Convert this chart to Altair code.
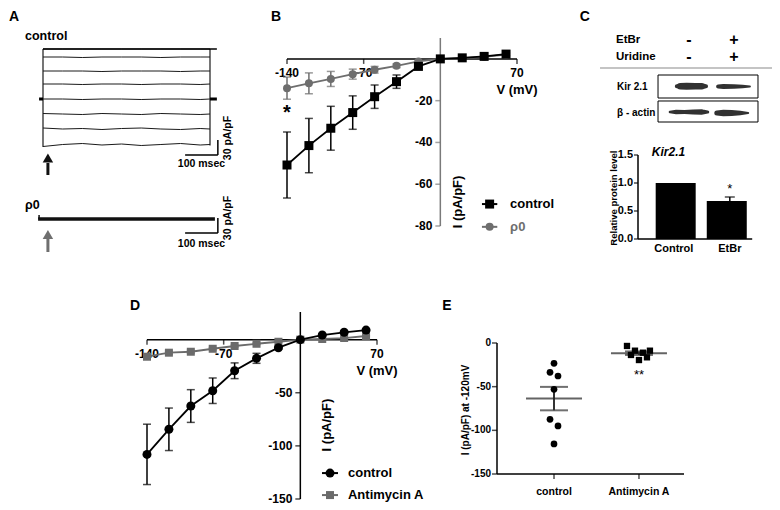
import altair as alt
import pandas as pd

FONT = "Liberation Sans"
M = 8  # page margin

# ======================= DATA =======================
# Panel A - control current traces (pA/pF) sampled at times (ms)
A_t = [0, 60, 120, 180, 240, 300, 360, 420, 480, 510]
A_tr1 = [100, 100, 100, 100, 100, 100, 100, 100, 100, 100]
A_tr2 = [84, 84, 83, 84, 84, 84, 83, 84, 84, 84]
A_tr3 = [56, 56, 56, 55, 56, 56, 56, 55, 56, 56]
A_tr4 = [30, 30, 29, 30, 30, 29, 30, 30, 29, 30]
A_tr5 = [0, 0, -1, 0, 0, -1, 0, 0, -1, 0]
A_tr6 = [-29, -30, -31, -29, -30, -31, -29, -30, -31, -30]
A_tr7 = [-58, -60, -59, -61, -59, -58, -60, -61, -59, -60]
A_tr8 = [-95, -91, -89, -92, -90, -93, -91, -89, -92, -91]
# Panel A - rho0 trace
A_rho_t = [-15, 525]
A_rho_i = [0, 0]

# Panel B - I/V, control vs rho0
B_V = [-140, -120, -100, -80, -60, -40, -20, 0, 20, 40, 60]
B_ctrl = [-50.8, -41.5, -33.2, -25.7, -18.1, -10.9, -3.6, 0.0, 0.5, 1.2, 2.3]
B_ctrl_sem = [15.8, 13.0, 10.5, 8.0, 5.6, 3.2, 1.0, 0.3, 0.4, 0.5, 0.6]
B_rho = [-14.0, -11.7, -9.6, -7.3, -5.2, -3.3, -1.2, 0.0, 0.4, 1.0, 2.0]
B_rho_sem = [5.3, 5.0, 3.6, 2.4, 1.6, 0.9, 0.5, 0.3, 0.3, 0.4, 0.5]
B_xticks = [-140, -70, 70]
B_yticks = [-20, -40, -60, -80]

# Panel C - western blot quantification
C_groups = ["Control", "EtBr"]
C_pos = [1, 2]
C_val = [1.0, 0.68]
C_sem = [0.0, 0.07]
C_yticks = [0.0, 0.5, 1.0, 1.5]
C_ylabels = ["0.0", "0.5", "1.0", "1.5"]

# Panel D - I/V, control vs Antimycin A
D_V = [-140, -120, -100, -80, -60, -40, -20, 0, 20, 40, 60]
D_ctrl = [-108.0, -84.4, -62.5, -48.1, -29.3, -17.6, -7.6, 0.0, 4.3, 6.9, 9.0]
D_ctrl_sem = [28.4, 20.0, 15.4, 12.0, 7.4, 4.7, 1.2, 0.5, 0.6, 0.8, 0.8]
D_anti = [-16.1, -12.3, -11.4, -8.6, -6.0, -3.9, -2.0, 0.0, 0.6, 1.5, 3.4]
D_anti_sem = [1.5, 1.4, 1.3, 1.1, 1.0, 0.8, 0.5, 0.3, 0.3, 0.4, 0.5]
D_xticks = [-140, -70, 70]
D_yticks = [-50, -100, -150]

# Panel E - current at -120 mV, individual cells
E_ctrl_x = [1.0, 0.953, 1.047, 1.0, 0.953, 1.047, 1.0]
E_ctrl = [-23.3, -33.6, -37.8, -53.0, -87.4, -95.0, -115.6]
E_anti_x = [1.859, 1.906, 1.953, 2.0, 2.047, 2.094, 2.129]
E_anti = [-3.4, -13.7, -8.8, -19.5, -11.1, -16.4, -8.8]
E_yticks = [0, -50, -100, -150]

# ======================= HELPERS =======================
def sc(domain, px):
    return alt.Scale(domain=list(domain), range=[px[0] - M, px[1] - M], nice=False, zero=False)


def layer(df, xs, ys, mark, x="x", y="y", x2=None, y2=None, enc=None, **kw):
    e = {"x": alt.X(f"{x}:Q", scale=xs, axis=None),
         "y": alt.Y(f"{y}:Q", scale=ys, axis=None)}
    if x2:
        e["x2"] = alt.X2(f"{x2}:Q")
    if y2:
        e["y2"] = alt.Y2(f"{y2}:Q")
    if enc:
        e.update(enc)
    return getattr(alt.Chart(df), "mark_" + mark)(**kw).encode(**e)


def text(xs, ys, xv, yv, labels, size=12, weight="bold", **kw):
    kw.setdefault("color", "#000")
    df = pd.DataFrame({"x": xv, "y": yv, "label": labels})
    return layer(df, xs, ys, "text", enc={"text": alt.Text("label:N")},
                 font=FONT, fontSize=size, fontWeight=weight, **kw)


def hrule(xs, ys, x1, x2, y, **kw):
    return layer(pd.DataFrame({"x": [x1], "x2": [x2], "y": [y]}), xs, ys, "rule", x2="x2", **kw)


def vrule(xs, ys, x, y1, y2, **kw):
    return layer(pd.DataFrame({"x": [x], "y": [y1], "y2": [y2]}), xs, ys, "rule", y2="y2", **kw)


layers = []

# ======================= PANEL A =======================
xA = sc([0, 510], [43, 210])
yA = sc([-100, 100], [149, 49])      # control traces, 0 at y=99
yA2 = sc([-100, 100], [269, 169])    # rho0 trace, 0 at y=219

rows = []
for k, tr in enumerate([A_tr1, A_tr2, A_tr3, A_tr4, A_tr5, A_tr6, A_tr7, A_tr8]):
    for t, v in zip(A_t, tr):
        rows.append({"x": t, "y": v, "tr": k})
A_df = pd.DataFrame(rows)
layers.append(layer(A_df, xA, yA, "line", enc={"detail": alt.Detail("tr:N")},
                    color="#1a1a1a", strokeWidth=1))
layers.append(vrule(xA, yA, 0, -96, 100, color="#1a1a1a", strokeWidth=1.2))
layers.append(vrule(xA, yA, 510, -93, 100, color="#1a1a1a", strokeWidth=1.2))
layers.append(hrule(xA, yA, 0, 531, 100, color="#000", strokeWidth=1.6))
layers.append(hrule(xA, yA, -12, 0, 0, color="#000", strokeWidth=3))
layers.append(hrule(xA, yA, 510, 531, 0, color="#000", strokeWidth=3))
# arrow
layers.append(vrule(xA, yA, 15, -128, -152, color="#111", strokeWidth=3))
layers.append(layer(pd.DataFrame({"x": [15], "y": [-118]}), xA, yA, "point",
                    shape="triangle-up", filled=True, size=110, color="#111", opacity=1))
# scale bar
layers.append(vrule(xA, yA, 534, -112, -82, color="#000", strokeWidth=1.5))
layers.append(hrule(xA, yA, 434, 534, -112, color="#000", strokeWidth=1.5))
layers.append(text(xA, yA, [484], [-130], ["100 msec"], size=10.5))
layers.append(text(xA, yA, [565], [-78], ["30 pA/pF"], size=10.5, angle=270))
layers.append(text(xA, yA, [-55], [126], ["control"], size=12.5, align="left"))
layers.append(text(xA, yA, [-88.5], [156], ["A"], size=14, baseline="alphabetic"))

# rho0
layers.append(layer(pd.DataFrame({"x": A_rho_t, "y": A_rho_i}), xA, yA2, "line",
                    color="#111", strokeWidth=3.5))
layers.append(vrule(xA, yA2, -12, 0, 8, color="#111", strokeWidth=1.5))
layers.append(vrule(xA, yA2, 15, -40, -66, color="#6f6f6f", strokeWidth=3))
layers.append(layer(pd.DataFrame({"x": [15], "y": [-31]}), xA, yA2, "point",
                    shape="triangle-up", filled=True, size=110, color="#6f6f6f", opacity=1))
layers.append(vrule(xA, yA2, 534, -28, 2, color="#000", strokeWidth=1.5))
layers.append(hrule(xA, yA2, 434, 534, -28, color="#000", strokeWidth=1.5))
layers.append(text(xA, yA2, [484], [-50], ["100 msec"], size=10.5))
layers.append(text(xA, yA2, [565], [2], ["30 pA/pF"], size=10.5, angle=270))
layers.append(text(xA, yA2, [-55], [28], ["ρ0"], size=12.5, align="left"))


# ======================= IV PANELS (B, D) =======================
def iv_panel(xs, ys, V, s1, s1e, s2, s2e, c1, c2, shp1, shp2, sz1, sz2,
             ylo, yhi, xticks, yticks, ycolor):
    L = []
    # axes
    L.append(hrule(xs, ys, -140, 70, 0, color="#000", strokeWidth=1.5))
    L.append(vrule(xs, ys, 0, ylo, yhi, color=ycolor, strokeWidth=1.5))
    L.append(layer(pd.DataFrame({"x": xticks, "y": [0] * len(xticks)}), xs, ys, "tick",
                   orient="vertical", size=5, thickness=1.5, yOffset=2.5, color="#000"))
    L.append(layer(pd.DataFrame({"x": [0] * len(yticks), "y": yticks}), xs, ys, "tick",
                   orient="horizontal", size=5, thickness=1.5, xOffset=-2.5, color=ycolor))
    L.append(text(xs, ys, xticks, [0] * len(xticks), [str(v) for v in xticks], size=12, dy=14))
    L.append(text(xs, ys, [0] * len(yticks), yticks, [str(v) for v in yticks], size=12,
                  align="right", dx=-8))
    # series (second drawn first, underneath)
    for vals, sems, col, shp, sz in [(s2, s2e, c2, shp2, sz2), (s1, s1e, c1, shp1, sz1)]:
        df = pd.DataFrame({"x": V, "y": vals, "lo": [a - b for a, b in zip(vals, sems)],
                           "hi": [a + b for a, b in zip(vals, sems)]})
        L.append(layer(df, xs, ys, "rule", y="lo", y2="hi", color=col, strokeWidth=1.5))
        cap = pd.concat([df[["x", "lo"]].rename(columns={"lo": "y"}),
                         df[["x", "hi"]].rename(columns={"hi": "y"})])
        L.append(layer(cap, xs, ys, "tick", orient="horizontal", size=8, thickness=1.5, color=col))
        L.append(layer(df, xs, ys, "line", color=col, strokeWidth=1.8))
        L.append(layer(df, xs, ys, "point", shape=shp, filled=True, size=sz, color=col, opacity=1))
    return L


xB = sc([-140, 70], [287, 517])
yB = sc([-80, 10], [226, 38])
layers += iv_panel(xB, yB, B_V, B_ctrl, B_ctrl_sem, B_rho, B_rho_sem, "#000", "#6e6e6e",
                   "square", "circle", 81, 64, -80, 10, B_xticks, B_yticks, "#7a7a7a")
layers.append(text(xB, yB, [70], [0], ["V (mV)"], size=13, dy=31))
layers.append(text(xB, yB, [16], [-68.5], ["I (pA/pF)"], size=13, angle=270))
layers.append(text(xB, yB, [-140], [-26], ["*"], size=20))
layers.append(text(xB, yB, [-150], [18.1], ["B"], size=14, baseline="alphabetic"))
# legend B
layers.append(hrule(xB, yB, 38, 52, -69.5, color="#000", strokeWidth=2))
layers.append(layer(pd.DataFrame({"x": [45], "y": [-69.5]}), xB, yB, "point", shape="square",
                    filled=True, size=81, color="#000", opacity=1))
layers.append(text(xB, yB, [63.7], [-69.5], ["control"], size=13, align="left"))
layers.append(hrule(xB, yB, 38, 52, -80.4, color="#6e6e6e", strokeWidth=2))
layers.append(layer(pd.DataFrame({"x": [45], "y": [-80.4]}), xB, yB, "point", shape="circle",
                    filled=True, size=64, color="#6e6e6e", opacity=1))
layers.append(text(xB, yB, [63.7], [-80.4], ["ρ0"], size=13, align="left", color="#6e6e6e"))

xD = sc([-140, 70], [147, 377])
yD = sc([-150, 26], [499, 312])
layers += iv_panel(xD, yD, D_V, D_ctrl, D_ctrl_sem, D_anti, D_anti_sem, "#000", "#6b6b6b",
                   "circle", "square", 81, 64, -150, 26, D_xticks, D_yticks, "#000")
layers.append(text(xD, yD, [70], [0], ["V (mV)"], size=13, dy=31))
layers.append(text(xD, yD, [24.8], [-80.4], ["I (pA/pF)"], size=13, angle=270))
layers.append(text(xD, yD, [-151], [27.9], ["D"], size=14, baseline="alphabetic"))
layers.append(hrule(xD, yD, 19.8, 34.4, -125.6, color="#000", strokeWidth=2))
layers.append(layer(pd.DataFrame({"x": [27.1], "y": [-125.6]}), xD, yD, "point", shape="circle",
                    filled=True, size=81, color="#000", opacity=1))
layers.append(text(xD, yD, [43.5], [-125.6], ["control"], size=13, align="left"))
layers.append(hrule(xD, yD, 19.8, 34.4, -146.3, color="#6b6b6b", strokeWidth=2))
layers.append(layer(pd.DataFrame({"x": [27.1], "y": [-146.3]}), xD, yD, "point", shape="square",
                    filled=True, size=64, color="#6b6b6b", opacity=1))
layers.append(text(xD, yD, [43.5], [-146.3], ["Antimycin A"], size=13, align="left"))

# ======================= PANEL E =======================
xE = sc([0.329, 2.53], [497, 684])
yE = sc([-150, 0], [474, 343])
layers.append(vrule(xE, yE, 0.329, -150, 0, color="#000", strokeWidth=1.5))
layers.append(hrule(xE, yE, 0.329, 2.53, -150, color="#000", strokeWidth=1.5))
layers.append(layer(pd.DataFrame({"x": [0.329] * 4, "y": E_yticks}), xE, yE, "tick",
                    orient="horizontal", size=5, thickness=1.5, xOffset=-2.5, color="#000"))
layers.append(text(xE, yE, [0.329] * 4, E_yticks, [str(v) for v in E_yticks], size=10,
                   align="right", dx=-6))
layers.append(layer(pd.DataFrame({"x": [1, 2], "y": [-150, -150]}), xE, yE, "tick",
                    orient="vertical", size=5, thickness=1.5, yOffset=2.5, color="#000"))
layers.append(text(xE, yE, [1, 2], [-150, -150], ["control", "Antimycin A"], size=10.5, dy=18))
layers.append(text(xE, yE, [-0.036], [-76.7], ["I (pA/pF) at -120mV"], size=10, angle=270))
layers.append(text(xE, yE, [-0.259], [37.8], ["E"], size=14, baseline="alphabetic"))
E_df = pd.DataFrame({"jx": E_ctrl_x + E_anti_x, "v": E_ctrl + E_anti,
                     "gx": [1] * len(E_ctrl) + [2] * len(E_anti),
                     "g": ["control"] * len(E_ctrl) + ["anti"] * len(E_anti)})
stat = (alt.Chart(E_df)
        .transform_aggregate(m="mean(v)", s="stderr(v)", groupby=["gx"])
        .transform_calculate(lo="datum.m - datum.s", hi="datum.m + datum.s"))
layers.append(stat.mark_rule(color="#333", strokeWidth=2).encode(
    x=alt.X("gx:Q", scale=xE, axis=None), y=alt.Y("lo:Q", scale=yE, axis=None), y2="hi:Q"))
layers.append(stat.transform_fold(["lo", "hi"]).mark_tick(
    orient="horizontal", size=28, thickness=2, color="#333").encode(
    x=alt.X("gx:Q", scale=xE, axis=None), y=alt.Y("value:Q", scale=yE, axis=None)))
layers.append(stat.mark_tick(orient="horizontal", size=56, thickness=2, color="#222").encode(
    x=alt.X("gx:Q", scale=xE, axis=None), y=alt.Y("m:Q", scale=yE, axis=None)))
layers.append(layer(E_df[E_df.g == "control"], xE, yE, "point", x="jx", y="v", shape="circle",
                    filled=True, size=45, color="#000", opacity=1))
layers.append(layer(E_df[E_df.g == "anti"], xE, yE, "point", x="jx", y="v", shape="square",
                    filled=True, size=40, color="#000", opacity=1))
layers.append(text(xE, yE, [2], [-36.7], ["**"], size=13, weight="normal"))

# ======================= PANEL C =======================
xC = sc([0.36, 2.4], [638, 752.2])
yC = sc([0, 1.5], [239, 155])
C_df = pd.DataFrame({"x": C_pos, "y": C_val, "g": C_groups,
                     "lo": C_val, "hi": [a + b for a, b in zip(C_val, C_sem)]})
layers.append(layer(C_df, xC, yC, "bar", orient="vertical", width=40, color="#000"))
layers.append(layer(C_df[C_df.g == "EtBr"], xC, yC, "rule", y="lo", y2="hi", color="#000", strokeWidth=1.5))
layers.append(layer(C_df[C_df.g == "EtBr"], xC, yC, "tick", y="hi", orient="horizontal",
                    size=10, thickness=1.5, color="#000"))
layers.append(vrule(xC, yC, 0.36, 0, 1.5, color="#000", strokeWidth=1.5))
layers.append(hrule(xC, yC, 0.36, 2.4, 0, color="#000", strokeWidth=1.5))
layers.append(layer(pd.DataFrame({"x": [0.36] * 4, "y": C_yticks}), xC, yC, "tick",
                    orient="horizontal", size=4, thickness=1.5, xOffset=-2, color="#000"))
layers.append(text(xC, yC, [0.36] * 4, C_yticks, C_ylabels, size=11, align="right", dx=-5))
layers.append(text(xC, yC, C_pos, [0, 0], C_groups, size=11, dy=10))
layers.append(text(xC, yC, [2], [0.9], ["*"], size=13, weight="normal"))
layers.append(text(xC, yC, [0.607], [1.554], ["Kir2.1"], size=12, align="left", fontStyle="italic"))
layers.append(text(xC, yC, [-0.072], [0.73], ["Relative protein level"], size=9.5, angle=270))
layers.append(text(xC, yC, [-0.589], [3.89], ["C"], size=14, baseline="alphabetic"))

# blot header (lane units / row units)
xW = sc([0, 3], [648, 777])
yW = sc([0, 5], [40, 125])
layers.append(text(xW, yW, [-0.744, -0.744], [0, 1], ["EtBr", "Uridine"], size=11.5, align="left"))
layers.append(text(xW, yW, [0.95, 0.95, 2.0, 2.0], [0, 1, 0, 1], ["-", "-", "+", "+"], size=16))
layers.append(hrule(xW, yW, -1.116, 3.07, 1.647, color="#8a8a8a", strokeWidth=1.2))
box = pd.DataFrame({"x": [0.233, 0.233], "x2": [2.558, 2.558], "y": [2.059, 3.588], "y2": [3.412, 4.824]})
layers.append(layer(box, xW, yW, "rect", x2="x2", y2="y2", filled=False, stroke="#000", strokeWidth=1))
layers.append(text(xW, yW, [-0.72, -0.72], [2.76, 4.29], ["Kir 2.1", "β - actin"], size=10, align="left"))
band_rows = []
for bid, xs_, ws_, yy in [
    ("k1", [0.67, 0.75, 0.9, 1.1, 1.25, 1.35], [4, 6.5, 7, 6.5, 6.5, 4], 2.72),
    ("k2", [1.63, 1.75, 2.0, 2.2, 2.37], [4, 5, 4.5, 3.5, 2], 2.74),
    ("a1", [0.51, 0.65, 0.85, 1.05, 1.25, 1.39], [2.5, 4.5, 4, 5, 5.5, 3], 4.24),
    ("a2", [1.6, 1.75, 1.95, 2.15, 2.33], [5, 6.5, 6, 4.5, 2], 4.3),
]:
    for xx, ww in zip(xs_, ws_):
        band_rows.append({"x": xx, "y": yy, "w": ww, "b": bid})
bands = pd.DataFrame(band_rows)
layers.append(layer(bands, xW, yW, "trail", enc={"size": alt.Size("w:Q", scale=None),
                                                  "detail": alt.Detail("b:N")},
                    color="#151515", opacity=0.88))

chart = (alt.layer(*layers)
         .resolve_scale(x="independent", y="independent")
         .properties(width=764, height=502, padding=0,
                     autosize=alt.AutoSizeParams(type="none"))
         .configure_view(stroke=None))

chart.save("out.html", embed_options={"renderer": "svg", "actions": False})
